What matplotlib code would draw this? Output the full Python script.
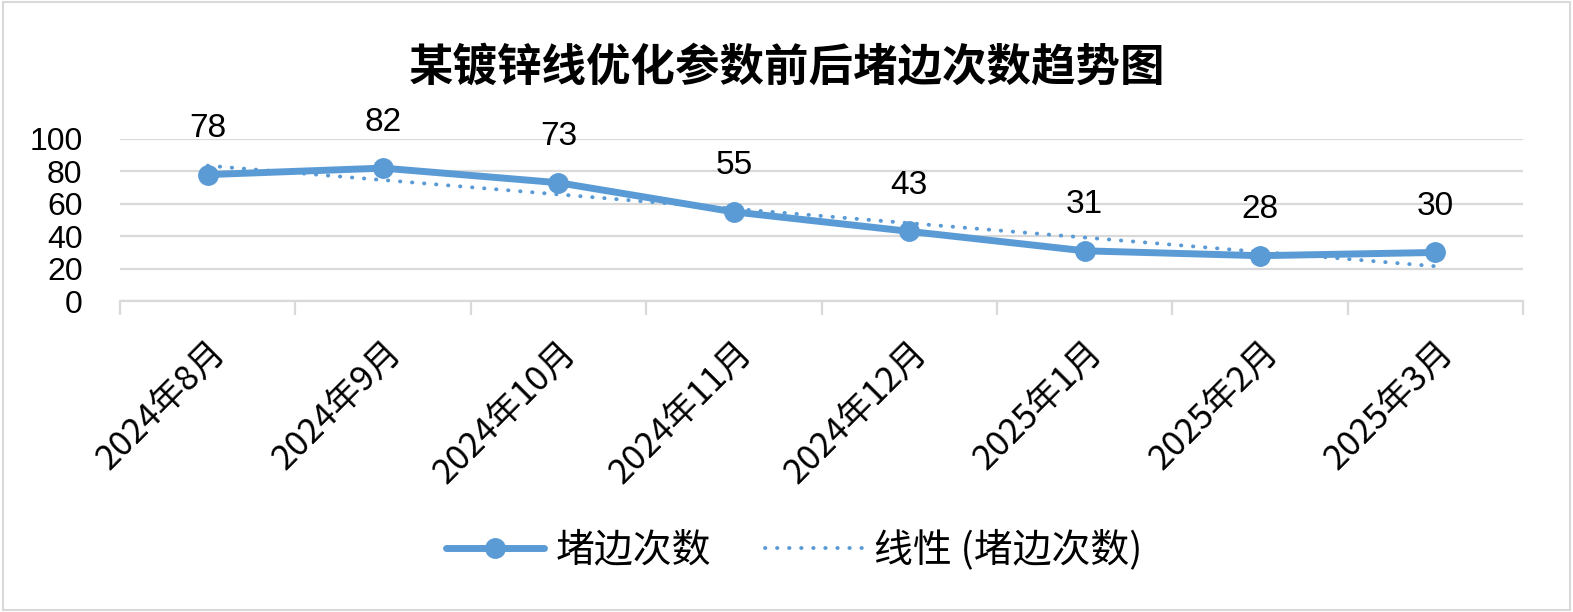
import matplotlib
matplotlib.use("Agg")
import matplotlib.pyplot as plt
import matplotlib.patches as mpatches
import numpy as np

plt.rcParams["font.family"] = ["Noto Sans CJK SC", "DejaVu Sans"]

months = ["2024年8月", "2024年9月", "2024年10月", "2024年11月",
          "2024年12月", "2025年1月", "2025年2月", "2025年3月"]
counts = [78, 82, 73, 55, 43, 31, 28, 30]
yticks = [0, 20, 40, 60, 80, 100]

title = "某镀锌线优化参数前后堵边次数趋势图"
series_name = "堵边次数"
trend_name = "线性 (堵边次数)"

blue = "#5B9BD5"
grid = "#D9D9D9"

x = np.arange(len(months))
# Excel style linear trend line
coef = np.polyfit(x, counts, 1)
trend = np.polyval(coef, x)

fig = plt.figure(figsize=(15.73, 6.12), dpi=100)
ax = fig.add_axes([0.0763, 0.508, 0.892, 0.265])

ax.plot(x, counts, color=blue, lw=5, marker="o", ms=14, zorder=3, label=series_name,
        solid_capstyle="round")
ax.plot(x, trend, color=blue, lw=2.8, ls=(0, (0.1, 3.0)), dash_capstyle="round",
        zorder=2, label=trend_name)

for xi, v in zip(x, counts):
    ax.annotate(str(v), (xi, v), xytext=(0, 22), textcoords="offset points",
                ha="center", va="bottom", fontsize=24, family="Liberation Sans")

ax.set_xlim(-0.5, len(months) - 0.5)
ax.set_ylim(0, 100)
ax.set_yticks(yticks)
ax.set_yticklabels([str(t) for t in yticks], fontsize=23, family="Liberation Sans")
ax.tick_params(axis="y", length=0, pad=27)
ax.grid(axis="y", color=grid, lw=1.6, zorder=0)
ax.set_axisbelow(True)

ax.set_xticks(np.arange(-0.5, len(months), 1.0))
ax.set_xticklabels([])
ax.tick_params(axis="x", which="major", length=10, color=grid, width=1.6)
ax.set_xticks(x, minor=True)
ax.set_xticklabels(months, minor=True, rotation=45, ha="right", rotation_mode="anchor",
                   fontsize=25)
ax.tick_params(axis="x", which="minor", length=0, pad=24)

for s in ["top", "right", "left"]:
    ax.spines[s].set_visible(False)
ax.spines["bottom"].set_color(grid)
ax.spines["bottom"].set_linewidth(1.6)

fig.text(0.5, 0.889, title, ha="center", va="center", fontsize=32, fontweight="bold")

handles, labels = ax.get_legend_handles_labels()
fig.legend(handles, labels, loc="center", bbox_to_anchor=(0.505, 0.101), ncol=2,
           frameon=False, fontsize=28, handlelength=2.5, columnspacing=1.4,
           handletextpad=0.3)

fig.patches.append(mpatches.Rectangle((0.002, 0.003), 0.996, 0.994, transform=fig.transFigure,
                                      fill=False, edgecolor=grid, lw=1.5))

fig.savefig("out.png", dpi=100)
